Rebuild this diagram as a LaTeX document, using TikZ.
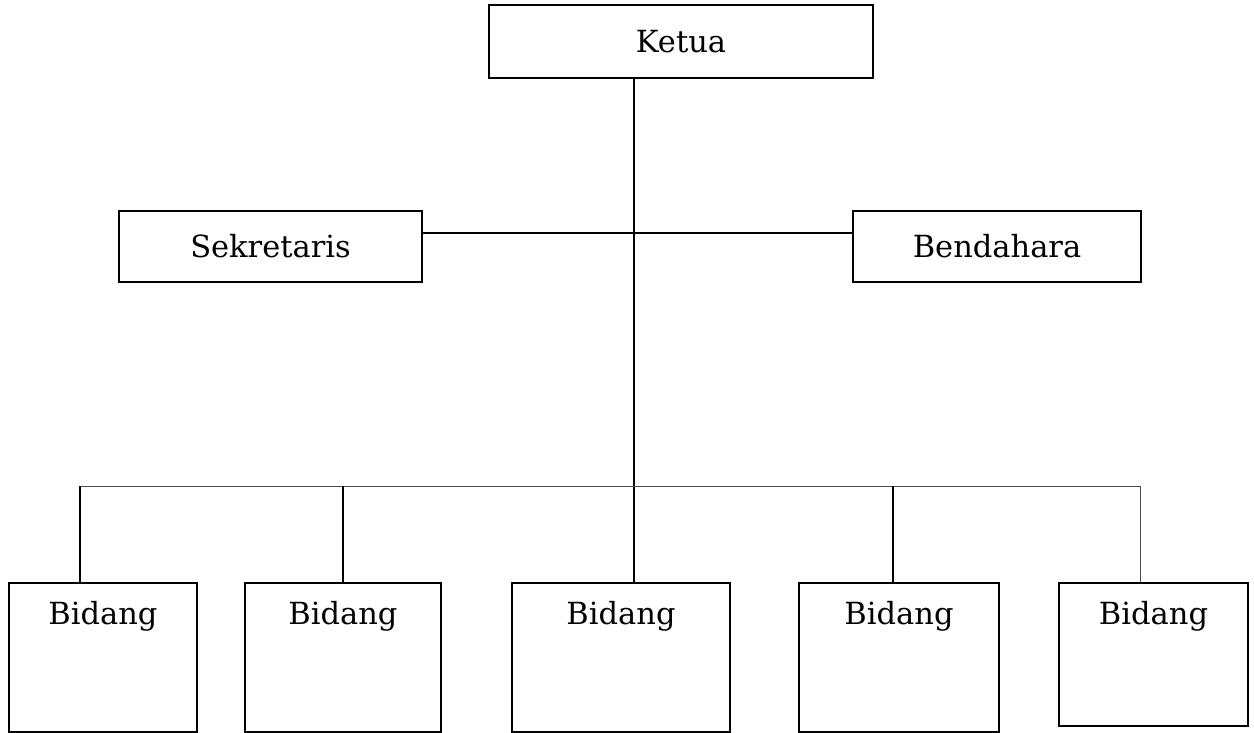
\documentclass[tikz,border=0pt]{standalone}
\usepackage{fontspec}
\setmainfont{DejaVu Serif}
\usepackage{tikz}

\begin{document}
\begin{tikzpicture}[x=1pt,y=-1pt,
		box/.style={draw=black,line width=1.8pt,inner sep=0pt,font=\fontsize{30.5}{36}\selectfont},
		bidang/.style={box,anchor=north,text height=42pt,text depth=107pt},
		link/.style={black,line width=1.8pt},
		thin/.style={black!70,line width=1pt}]
		\useasboundingbox (0,0) rectangle (1254,732);
		% top level
		\node [box,minimum width=384pt,minimum height=73pt] (ketua) at (681,41.5) {Ketua};
		\node [box,minimum width=303pt,minimum height=71pt] (sekretaris) at (270.5,246.5) {Sekretaris};
		\node [box,minimum width=288pt,minimum height=71pt] (bendahara) at (997,246.5) {Bendahara};
		% bidang boxes
		\node [bidang,minimum width=188pt] (bidang1) at (103,582) {Bidang};
		\node [bidang,minimum width=196pt] (bidang2) at (343,582) {Bidang};
		\node [bidang,minimum width=218pt] (bidang3) at (621,582) {Bidang};
		\node [bidang,minimum width=200pt] (bidang4) at (899,582) {Bidang};
		\node [bidang,minimum width=189pt,text depth=101pt] (bidang5) at (1153.5,582) {Bidang};
		% junctions
		\coordinate (hub) at (634,233);
		\coordinate (d1) at (80,486);
		\coordinate (d2) at (343,486);
		\coordinate (d3) at (634,486);
		\coordinate (d4) at (893,486);
		\coordinate (d5) at (1140,486);
		% connectors
		\draw [link] (ketua.south -| hub) -- (bidang3.north -| hub);
		\draw [link] (sekretaris.east |- hub) -- (bendahara.west |- hub);
		\draw [thin] (d1) -- (d5);
		\draw [link] (d1) -- (d1 |- bidang1.north);
		\draw [link] (d2) -- (d2 |- bidang2.north);
		\draw [link] (d4) -- (d4 |- bidang4.north);
		\draw [thin] (d5) -- (d5 |- bidang5.north);
	\end{tikzpicture}
\end{document}
